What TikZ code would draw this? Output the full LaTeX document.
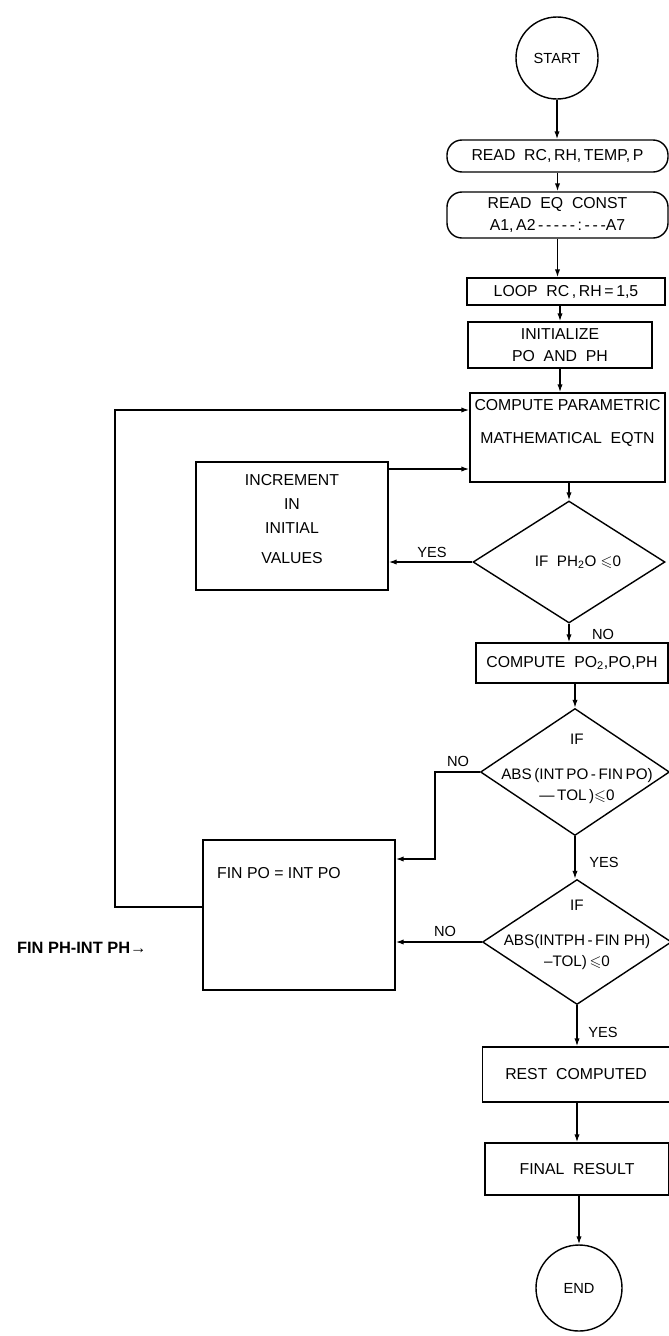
\documentclass[tikz,border=0pt]{standalone}
\usepackage{amssymb}
\usepackage{fontspec}
\setmainfont{Liberation Sans}
\usetikzlibrary{positioning,shapes.geometric,arrows.meta,calc}
\tikzset{
flow/.style={-{Latex[length=2.4mm,width=1.6mm]},line width=1.2pt},
box/.style={draw,line width=1.2pt,inner sep=2pt,align=center,font=\fontsize{13.5}{19}\selectfont},
iobox/.style={box,rounded corners=0.45cm},
term/.style={draw,circle,line width=1.2pt,inner sep=0pt,font=\fontsize{12.5}{14}\selectfont},
decide/.style={draw,diamond,line width=1.2pt,inner sep=0pt},
dtext/.style={align=center,font=\fontsize{13}{18}\selectfont},
tag/.style={font=\fontsize{12.5}{14}\selectfont},
note/.style={font=\fontsize{14}{16}\selectfont\bfseries}
}

\begin{document}
\begin{tikzpicture}[x=0.03cm,y=-0.03cm]
\useasboundingbox (0,0) rectangle (669,1336);
% main column
\node[term,minimum size=2.46cm] (start) at (557,58) {START};
\node[iobox,minimum width=6.63cm,minimum height=0.96cm] (rd1) at (557.5,156) {READ\ \ RC,\,RH,\,TEMP,\,P};
\node[iobox,minimum width=6.63cm,minimum height=1.38cm] (rd2) at (557.5,215) {READ\ \ EQ\ \ CONST\\A1,\,A2\,-\,-\,-\,-\,-\,:\,-\,-\,-A7};
\node[box,minimum width=5.94cm,minimum height=0.81cm] (loop) at (566,291.5) {LOOP\ \ RC\,,\,RH\,=\,1,5};
\node[box,minimum width=5.52cm,minimum height=1.38cm] (init) at (560,345) {INITIALIZE\\PO\ \ AND\ \ PH};
\node[box,minimum width=5.85cm,minimum height=2.67cm,font=\fontsize{13.5}{28}\selectfont] (comp) at (567.5,437.5) {COMPUTE PARAMETRIC\\MATHEMATICAL\ \ EQTN\\\mbox{}};
\node[decide,minimum width=5.76cm,minimum height=3.66cm] (dia1) at (569,562) {};
\node[dtext] (dia1txt) at (578,562) {IF\ \ PH\textsubscript{2}O\ $\leqslant$0};
\node[box,minimum width=5.76cm,minimum height=1.2cm] (po2) at (572,663) {COMPUTE\ \ PO\textsubscript{2},PO,PH};
\node[decide,minimum width=5.67cm,minimum height=3.81cm] (dia2) at (575,772) {};
\node[dtext] (dia2txt) at (577,769) {IF\\[12pt]ABS\,(INT\,PO\,-\,FIN\,PO)\\---\,TOL\,)$\leqslant$0};
\node[decide,minimum width=5.67cm,minimum height=3.75cm] (dia3) at (577,942) {};
\node[dtext] (dia3txt) at (577,935) {IF\\[12pt]ABS(INTPH\,-\,FIN PH)\\--TOL)\,$\leqslant$0};
\node[box,minimum width=5.61cm,minimum height=1.65cm] (rest) at (576,1074.5) {REST\ \ COMPUTED};
\node[box,minimum width=5.52cm,minimum height=1.56cm] (final) at (577,1169) {FINAL\ \ RESULT};
\node[term,minimum size=2.58cm] (end) at (579,1288) {END};
% side boxes
\node[box,minimum width=5.76cm,minimum height=3.84cm,font=\fontsize{13.5}{20.5}\selectfont] (incr) at (292,526) {INCREMENT\\IN\\INITIAL\\[5pt]VALUES\\[-8pt]\mbox{}};
\node[box,minimum width=5.76cm,minimum height=4.5cm] (fin) at (299,915) {};
\node[anchor=west,font=\fontsize{13.5}{15}\selectfont] (fintxt) at (213,873) {FIN\ PO\ =\ INT\ PO};
\node[note,anchor=west] (finph) at (13,948) {FIN PH-INT PH→};
% straight flow
\draw[flow] (start) -- (start |- rd1.north);
\draw[flow] (rd1) -- (rd1 |- rd2.north);
\draw[flow] (rd2.south) -- (rd2.south |- loop.north);
\draw[flow] (init.north |- loop.south) -- (init.north);
\draw[flow] (init.south) -- (init.south |- comp.north);
\draw[flow] (dia1.north |- comp.south) -- (dia1.north);
\draw[flow] (dia1.south) -- (dia1.south |- po2.north);
\draw[flow] (dia2.north |- po2.south) -- (dia2.north);
\draw[flow] (dia2.south) -- (dia2.south |- dia3.north);
\draw[flow] (dia3.south) -- (dia3.south |- rest.north);
\draw[flow] (final.north |- rest.south) -- (final.north);
\draw[flow] (end.north |- final.south) -- (end.north);
% branches
\coordinate (incrtop) at (388,469);
\coordinate (nodrop) at (435,859);
\coordinate (backlow) at (115,907);
\coordinate (backtop) at (115,410);
\draw[flow] (dia1.west) -- (dia1.west -| incr.east);
\draw[flow] (incrtop) -- (incrtop -| comp.west);
\draw[flow] (dia2.west) -| (nodrop) -- (nodrop -| fin.east);
\draw[flow] (dia3.west) -- (dia3.west -| fin.east);
\draw[flow] (backlow -| fin.west) -- (backlow) -- (backtop) -- (backtop -| comp.west);
% labels
\node[tag] (no1) at (603,634) {NO};
\node[tag] (yes1) at (432,552) {YES};
\node[tag] (no2) at (458,761) {NO};
\node[tag] (yes2) at (604,862) {YES};
\node[tag] (no3) at (445,931) {NO};
\node[tag] (yes3) at (603,1032) {YES};
\end{tikzpicture}
\end{document}
